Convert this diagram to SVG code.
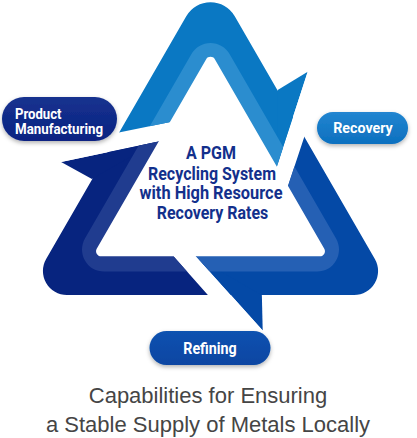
<svg xmlns="http://www.w3.org/2000/svg" width="417" height="438" viewBox="0 0 417 438">
<style>
.pill-text{font-family:Roboto,"Liberation Sans",Arial,sans-serif;font-weight:bold;fill:#ffffff}
.center-text{font-family:Roboto,"Liberation Sans",Arial,sans-serif;font-weight:bold;fill:#13308c;font-size:17.5px;text-anchor:middle}
.caption{font-family:"Liberation Sans",Arial,sans-serif;font-size:22px;fill:#454545;text-anchor:middle}
</style>
<defs>
<path id="outer" d="M186.25,16.3 A28,28 0 0 1 234.75,16.3 L374.86,259 A24,24 0 0 1 354.08,295 L66.92,295 A24,24 0 0 1 46.14,259 Z"/>
<path id="stripe" d="M191.45,54.1 A22,22 0 0 1 229.55,54.1 L336.07,238.6 A22,22 0 0 1 317.02,271.6 L103.98,271.6 A22,22 0 0 1 84.93,238.6 Z"/>
<polygon id="barb" points="277.7,90 307.7,71.7 277.7,164"/>
<clipPath id="c1" clipPathUnits="userSpaceOnUse">
<polygon points="210.5,188.1 202.7,115.3 171.7,121.7 120,132.3 21.8,152.4 -20,60 210.5,-60 350,-60 319.7,34.8 307.7,71.7 277.7,164 274.7,173.2"/>
</clipPath>
<clipPath id="c2" clipPathUnits="userSpaceOnUse">
<polygon transform="rotate(120 210.5 188.1)" points="210.5,188.1 202.7,115.3 171.7,121.7 120,132.3 21.8,152.4 -20,60 210.5,-60 350,-60 319.7,34.8 307.7,71.7 277.7,164 274.7,173.2"/>
</clipPath>
<clipPath id="c3" clipPathUnits="userSpaceOnUse">
<polygon transform="rotate(240 210.5 188.1)" points="210.5,188.1 202.7,115.3 171.7,121.7 120,132.3 21.8,152.4 -20,60 210.5,-60 350,-60 319.7,34.8 307.7,71.7 277.7,164 274.7,173.2"/>
</clipPath>
<linearGradient id="gProd" x1="0" y1="0" x2="0" y2="1">
<stop offset="0" stop-color="#16328f"/><stop offset="1" stop-color="#0a2382"/>
</linearGradient>
<linearGradient id="gRec" x1="0" y1="0" x2="0" y2="1">
<stop offset="0" stop-color="#2185d0"/><stop offset="1" stop-color="#0d70bf"/>
</linearGradient>
<linearGradient id="gRef" x1="0" y1="0" x2="0" y2="1">
<stop offset="0" stop-color="#0d52b0"/><stop offset="1" stop-color="#0745a2"/>
</linearGradient>
<filter id="sh" x="-20%" y="-30%" width="140%" height="180%">
<feDropShadow dx="0" dy="2" stdDeviation="2" flood-color="#000000" flood-opacity="0.3"/>
</filter>
</defs>

<g id="connectors">
<g id="arrow-top" clip-path="url(#c1)">
<use href="#outer" fill="#0a78c3"/>
<use href="#barb" fill="#0a78c3"/>
<use href="#stripe" fill="#2b8dcf"/>
</g>
<g id="arrow-right" clip-path="url(#c2)">
<use href="#outer" fill="#0449a6"/>
<use href="#barb" fill="#0449a6" transform="rotate(120 210.5 188.1)"/>
<use href="#stripe" fill="#2560b4"/>
</g>
<g id="arrow-left" clip-path="url(#c3)">
<use href="#outer" fill="#07247f"/>
<use href="#barb" fill="#07247f" transform="rotate(240 210.5 188.1)"/>
<use href="#stripe" fill="#203c8f"/>
</g>
<path id="inner" fill="#ffffff" d="M206.17,59.2 A5,5 0 0 1 214.83,59.2 L324.29,248.8 A5,5 0 0 1 319.96,256.3 L101.04,256.3 A5,5 0 0 1 96.71,248.8 Z"/>
</g>

<g id="node-center">
<text class="center-text" x="211" y="159.3" textLength="50" lengthAdjust="spacingAndGlyphs">A PGM</text>
<text class="center-text" x="212" y="179.5" textLength="128" lengthAdjust="spacingAndGlyphs">Recycling System</text>
<text class="center-text" x="211" y="199.3" textLength="143" lengthAdjust="spacingAndGlyphs">with High Resource</text>
<text class="center-text" x="212.5" y="218.5" textLength="111.5" lengthAdjust="spacingAndGlyphs">Recovery Rates</text>
</g>

<g id="node-product">
<rect x="2" y="97" width="115" height="44" rx="22" fill="url(#gProd)" filter="url(#sh)"/>
<text class="pill-text" x="15" y="118.5" font-size="14.5" textLength="46.5" lengthAdjust="spacingAndGlyphs">Product</text>
<text class="pill-text" x="15" y="134" font-size="14.5" textLength="88" lengthAdjust="spacingAndGlyphs">Manufacturing</text>
</g>

<g id="node-recovery">
<rect x="317" y="112" width="91" height="32" rx="16" fill="url(#gRec)" filter="url(#sh)"/>
<text class="pill-text" x="363" y="132.7" font-size="15.5" text-anchor="middle" textLength="59.5" lengthAdjust="spacingAndGlyphs">Recovery</text>
</g>

<g id="node-refining">
<rect x="149.5" y="331" width="121" height="34" rx="17" fill="url(#gRef)" filter="url(#sh)"/>
<text class="pill-text" x="210" y="353.5" font-size="16" text-anchor="middle" textLength="53.5" lengthAdjust="spacingAndGlyphs">Refining</text>
</g>

<g id="caption">
<text class="caption" x="208" y="403.3">Capabilities for Ensuring</text>
<text class="caption" x="208" y="432.3">a Stable Supply of Metals Locally</text>
</g>
</svg>
